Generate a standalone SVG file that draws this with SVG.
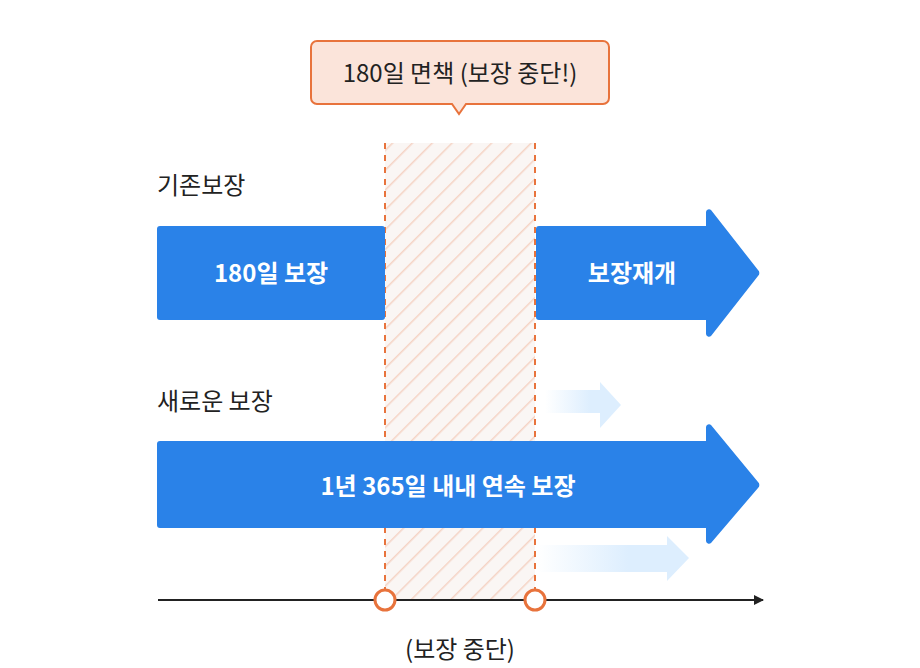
<svg xmlns="http://www.w3.org/2000/svg" width="920" height="668" viewBox="0 0 920 668">
<style>
text{font-family:"Noto Sans CJK KR","Noto Sans",sans-serif}
.lbl{font-size:24px;fill:#222}
.w{font-size:24px;fill:#fff;font-weight:700}
.blue{fill:#2a82e8}
.dash{stroke:#e8733c;stroke-width:2;stroke-dasharray:6 6}
</style>
<defs>
<pattern id="h" width="14" height="14" patternUnits="userSpaceOnUse" patternTransform="rotate(45)">
<rect width="14" height="14" fill="#faf6f4"/>
<line x1="0" y1="0" x2="0" y2="14" stroke="#f5d3c4" stroke-width="3"/>
</pattern>
<linearGradient id="g" x1="0" x2="1"><stop offset="0" stop-color="#ddeefe" stop-opacity="0"/><stop offset="0.6" stop-color="#ddeefe"/></linearGradient>
<marker id="ar" markerWidth="10" markerHeight="10" refX="9" refY="5" orient="auto" markerUnits="userSpaceOnUse"><path d="M0,0 L10,5 L0,10 z" fill="#222"/></marker>
</defs>
<g id="gap">
<rect x="385" y="143" width="150" height="457" fill="url(#h)"/>
<line class="dash" x1="385" y1="143" x2="385" y2="590"/>
<line class="dash" x1="535" y1="143" x2="535" y2="590"/>
</g>
<g id="callout">
<path d="M317,41 H603 a6,6 0 0 1 6,6 V98 a6,6 0 0 1 -6,6 H466 L459,114 L452,104 H317 a6,6 0 0 1 -6,-6 V47 a6,6 0 0 1 6,-6 z" fill="#fbe4da" stroke="#e8733c" stroke-width="2"/>
<text x="460" y="82" text-anchor="middle" class="lbl">180일 면책 (보장 중단!)</text>
</g>
<text x="157" y="194" class="lbl">기존보장</text>
<text x="157" y="410" class="lbl">새로운 보장</text>
<g id="old">
<rect x="157" y="226" width="228" height="94" rx="3" class="blue"/>
<text x="271" y="282" text-anchor="middle" class="w">180일 보장</text>
</g>
<g id="resume">
<path d="M536,229 a3,3 0 0 1 3,-3 H706 V212 a3,3 0 0 1 5,-2 L758,270 a4,4 0 0 1 0,6 L711,336 a3,3 0 0 1 -5,-2 V320 H539 a3,3 0 0 1 -3,-3 z" class="blue"/>
<text x="632" y="282" text-anchor="middle" class="w">보장재개</text>
</g>
<g id="faint1"><path d="M545,390 H600 V382 L621,405 L600,428 V413 H545 z" fill="url(#g)"/></g>
<g id="new">
<path d="M157,444 a3,3 0 0 1 3,-3 H706 V427 a3,3 0 0 1 5,-2 L758,482 a4,4 0 0 1 0,6 L711,543 a3,3 0 0 1 -5,-2 V528 H160 a3,3 0 0 1 -3,-3 z" class="blue"/>
<text x="448" y="495" text-anchor="middle" class="w">1년 365일 내내 연속 보장</text>
</g>
<g id="faint2"><path d="M537,545 H667 V536 L689,558 L667,581 V572 H537 z" fill="url(#g)"/></g>
<g id="connectors">
<line x1="158" y1="600" x2="763" y2="600" stroke="#222" stroke-width="2" marker-end="url(#ar)"/>
</g>
<g id="points">
<circle cx="385" cy="600" r="10" fill="#fff" stroke="#e8733c" stroke-width="3"/>
<circle cx="535" cy="600" r="10" fill="#fff" stroke="#e8733c" stroke-width="3"/>
</g>
<text x="460" y="658" text-anchor="middle" class="lbl">(보장 중단)</text>
</svg>
